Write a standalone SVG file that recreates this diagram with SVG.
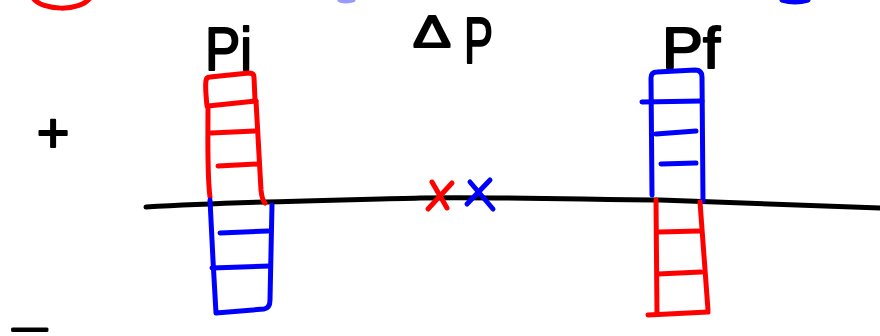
<svg xmlns="http://www.w3.org/2000/svg" width="880" height="336" viewBox="0 0 880 336">
<style>
.s{fill:none;stroke-width:5;stroke-linecap:round;stroke-linejoin:round}
.r{stroke:#ff0000}
.b{stroke:#0000ff}
.k{stroke:#000000}
.t{font-family:"Liberation Sans",Arial,sans-serif;fill:#000000;stroke:#000000;stroke-width:2;stroke-linejoin:round}
</style>
<rect width="880" height="336" fill="#ffffff"/>
<path class="s r" d="M33,-2 C42,11 80,12 90,-2"/>
<path class="s b" d="M782,0 Q795,4 808,0"/>
<path class="s b" d="M340,0 Q347,2 353,0" stroke-opacity="0.4" stroke-width="3"/>
<g id="axis">
<path class="s k" d="M146,207 C250,201 350,200 420,198 C520,197 600,200 660,200 C750,203 820,206 880,208"/>
</g>
<g id="label-pi"><text class="t" x="205" y="70" font-size="62" textLength="47" lengthAdjust="spacingAndGlyphs">Pi</text></g>
<g id="label-dp"><text class="t" x="413" y="47"><tspan font-size="44" textLength="38" lengthAdjust="spacingAndGlyphs">Δ</tspan><tspan x="464" y="63" font-size="64" textLength="29" lengthAdjust="spacingAndGlyphs">P</tspan></text></g>
<g id="label-pf"><text class="t" x="662" y="68" font-size="58" textLength="58" lengthAdjust="spacingAndGlyphs">Pf</text></g>
<g id="sign-plus"><text class="t" x="53" y="152" font-size="56" text-anchor="middle">+</text></g>
<g id="sign-minus"><text class="t" x="30" y="341" font-size="34" text-anchor="middle" textLength="40" lengthAdjust="spacingAndGlyphs">−</text></g>
<g id="column-pi">
<path class="s r" d="M207,106 C206,96 205,86 206,81 Q206,77 210,77 L249,73 Q254,73 254,77 L255,100"/>
<path class="s r" d="M208,106 L256,101"/>
<path class="s r" d="M208,106 C208,140 207,175 210,197"/>
<path class="s r" d="M256,101 C258,135 260,175 261,190 Q262,200 265,203"/>
<path class="s r" d="M211,133 L255,131"/>
<path class="s r" d="M218,166 L258,164"/>
<path class="s b" d="M210,200 L213,260 L216,313 L264,309 Q270,308 270,300 L272,205"/>
<path class="s b" d="M220,233 L268,231"/>
<path class="s b" d="M212,268 L270,266"/>
</g>
<g id="column-pf">
<path class="s b" d="M652,195 L651,78 Q651,72 657,72 L695,70 Q702,70 702,77 L703,201"/>
<path class="s b" d="M642,102 L702,101"/>
<path class="s b" d="M656,134 L696,131"/>
<path class="s b" d="M661,164 L696,163"/>
<path class="s r" d="M656,200 L657,314"/>
<path class="s r" d="M700,202 L708,310"/>
<path class="s r" d="M648,315 L708,312"/>
<path class="s r" d="M659,232 L699,231"/>
<path class="s r" d="M658,274 L701,272"/>
</g>
<g id="marks">
<path class="s r" d="M432,182 L447,208"/>
<path class="s r" d="M452,183 L428,209"/>
<path class="s b" d="M470,182 L493,209"/>
<path class="s b" d="M490,180 L467,204"/>
</g>
</svg>
